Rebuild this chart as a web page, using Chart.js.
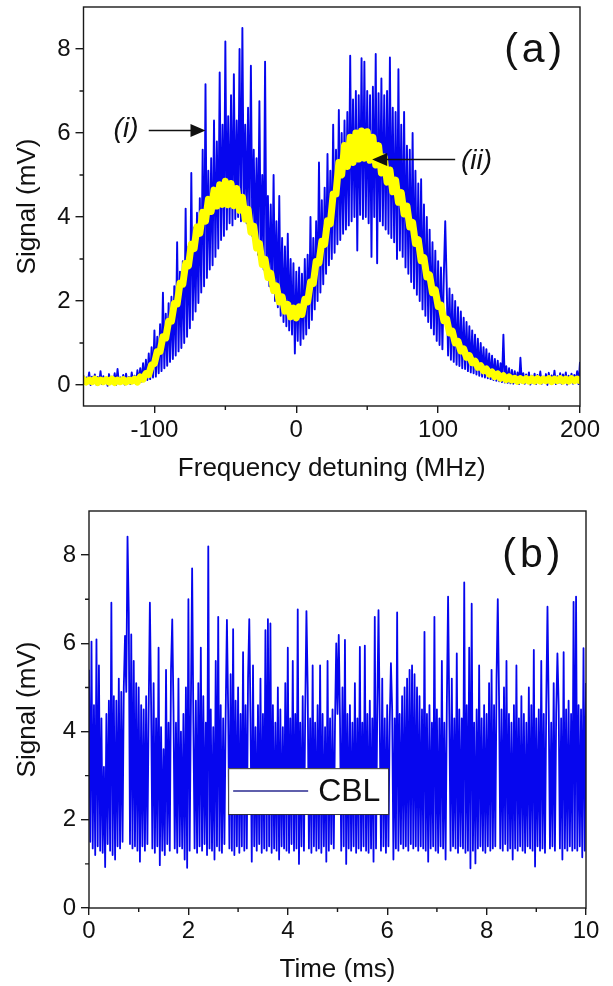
<!DOCTYPE html>
<html><head><meta charset="utf-8">
<script src="https://cdn.jsdelivr.net/npm/chart.js@4.4.1/dist/chart.umd.min.js"></script>
<style>
html,body{margin:0;padding:0;background:#fff;}
#wrap{position:relative;width:613px;height:986px;overflow:hidden;}
canvas{position:absolute;left:0;}
#c1{top:0;} #c2{top:493px;}
</style></head><body>
<div id="wrap">
<canvas id="c1" width="613" height="493"></canvas>
<canvas id="c2" width="613" height="493"></canvas>
</div>
<script>
// ---------------- DATA ----------------
// Panel (a): frequency grid (MHz)
const freqStart = -150;
const freqStep = 1;
// raw CBL trace (blue), one value per MHz from -150 to 200
const signalA_raw = [
0.22,0.02,0.18,0.06,0.30,0.00,0.20,0.04,0.25,0.01,
0.19,0.05,0.33,0.02,0.21,0.07,0.17,-0.02,0.26,0.03,
0.20,0.06,0.28,0.00,0.38,0.04,0.18,0.08,0.24,0.01,
0.27,0.05,0.19,0.02,0.30,0.06,0.22,0.03,0.35,0.07,
0.40,0.08,0.52,0.10,0.60,0.12,0.75,0.14,0.90,0.18,
1.30,0.20,1.15,0.28,1.45,0.33,2.20,0.40,1.70,0.46,
1.95,0.55,2.10,0.62,2.35,0.70,3.40,0.80,2.70,0.88,
2.95,1.00,4.20,1.15,3.30,1.35,5.05,1.55,3.75,1.75,
4.10,1.95,4.45,2.20,5.60,2.35,7.16,2.55,5.10,2.75,
5.40,2.85,6.30,3.05,5.80,3.25,7.44,3.45,6.20,3.55,
8.18,3.70,6.40,3.85,6.90,3.80,7.40,3.95,6.30,4.00,
8.00,3.90,8.50,4.05,6.20,3.85,6.60,3.70,7.60,3.55,
5.60,3.35,5.40,3.10,6.76,2.95,5.00,2.75,7.70,2.55,
4.50,2.35,4.30,2.20,5.00,2.00,3.90,1.85,4.50,1.65,
3.50,1.50,3.30,1.40,3.60,1.30,3.00,1.20,2.90,0.75,
2.70,1.05,2.80,0.95,2.65,1.10,3.00,1.20,3.10,1.35,
4.00,1.55,3.50,1.80,3.90,2.00,5.30,2.20,4.40,2.40,
4.70,2.65,5.50,2.85,5.10,3.00,6.20,3.15,5.60,3.35,
6.55,3.45,6.00,3.60,6.30,3.70,6.50,3.80,7.84,3.90,
6.80,4.00,7.00,3.20,6.90,4.05,7.78,3.95,7.70,4.00,
7.00,3.85,6.90,3.05,7.10,4.00,7.88,2.90,6.95,3.90,
7.30,3.80,6.90,3.70,7.00,3.60,7.80,3.50,6.60,3.40,
6.50,3.00,7.52,3.20,6.20,3.05,6.50,2.80,5.70,2.65,
5.60,2.45,6.00,2.30,5.10,2.15,4.80,2.00,4.90,1.80,
4.30,1.65,4.00,1.50,3.70,1.35,3.40,1.20,3.20,1.05,
2.95,0.95,2.80,0.85,2.60,3.90,2.45,0.70,2.30,0.60,
2.15,0.55,2.00,0.48,1.85,0.45,1.75,0.40,1.60,0.38,
1.50,0.33,1.40,0.30,1.30,0.28,1.20,0.25,1.10,0.22,
1.00,0.20,0.90,0.18,0.85,0.16,0.75,0.14,0.70,0.12,
0.62,0.10,0.58,0.09,0.52,0.07,1.20,0.06,0.45,0.05,
0.40,0.04,0.36,0.03,0.33,0.05,0.30,0.02,0.65,0.06,
0.28,0.03,0.25,0.07,0.30,0.01,0.22,0.05,0.27,0.02,
0.24,0.06,0.32,0.03,0.20,0.08,0.26,0.00,0.29,0.04,
0.23,0.07,0.34,0.02,0.21,0.05,0.28,0.03,0.25,0.06,
0.30,0.01,0.22,0.06,0.27,0.03,0.24,0.08,0.33,0.02,
0.55
];
// averaged trace (yellow), one value per 2 MHz from -150 to 200
const avgStart = -150;
const avgStep = 2;
const signalA_avg = [
0.13,0.07,0.12,0.08,0.14,0.06,0.12,0.08,0.13,0.07,
0.14,0.06,0.12,0.08,0.13,0.07,0.12,0.09,0.14,0.07,
0.19,0.14,0.27,0.25,0.48,0.51,0.80,0.80,1.15,1.12,
1.52,1.52,1.94,1.93,2.42,2.40,2.89,2.84,3.35,3.25,
3.76,3.61,4.11,3.90,4.42,4.13,4.64,4.26,4.77,4.30,
4.85,4.29,4.80,4.27,4.68,4.16,4.47,3.95,4.18,3.64,
3.78,3.26,3.37,2.87,2.99,2.56,2.66,2.25,2.36,1.98,
2.10,1.76,1.92,1.62,1.83,1.60,1.86,1.68,2.04,1.98,
2.45,2.42,2.94,2.91,3.42,3.35,3.91,3.84,4.55,4.55,
5.30,5.00,5.70,5.20,5.90,5.30,6.00,5.38,6.05,5.40,
6.03,5.35,5.90,5.24,5.70,5.05,5.43,4.83,5.12,4.60,
4.88,4.35,4.58,4.07,4.26,3.76,3.87,3.37,3.46,2.96,
3.03,2.57,2.62,2.20,2.26,1.87,1.90,1.53,1.57,1.24,
1.28,1.00,1.04,0.81,0.86,0.66,0.70,0.53,0.57,0.42,
0.46,0.34,0.38,0.26,0.31,0.20,0.26,0.16,0.22,0.13,
0.19,0.12,0.16,0.09,0.15,0.10,0.15,0.09,0.15,0.09,
0.15,0.09,0.14,0.10,0.15,0.08,0.14,0.10,0.15,0.09,
0.14,0.09,0.15,0.10,0.14,0.10
];
// Panel (b): time grid (ms)
const timeStart = 0;
const timeStep = 0.025;
const signalB_CBL = [
5.40,1.50,6.04,1.35,4.60,1.20,6.09,1.40,5.50,1.30,
4.30,1.25,3.20,0.93,4.40,1.45,4.70,1.30,6.92,1.20,
4.80,1.10,4.70,1.40,5.20,1.35,4.90,1.50,5.00,6.17,
4.90,8.42,6.70,1.45,6.20,1.35,5.60,1.40,5.10,1.30,
5.00,1.05,4.60,1.40,4.50,1.30,4.80,1.45,4.40,6.92,
4.60,1.35,5.10,1.25,4.30,1.40,5.90,0.97,4.10,1.30,
3.60,1.20,5.40,1.45,4.20,1.30,5.40,6.54,4.50,1.35,
4.20,1.25,5.20,1.40,4.00,1.35,4.40,1.10,5.00,0.91,
7.00,1.30,4.60,7.70,4.20,1.35,4.70,1.25,5.10,1.40,
5.90,1.30,4.80,1.45,4.20,1.20,8.20,1.35,4.50,1.30,
4.10,1.10,5.60,1.40,6.60,1.30,4.60,1.25,4.30,1.45,
4.40,6.53,4.50,1.35,5.30,1.30,6.32,1.20,4.70,1.40,
5.00,1.25,4.40,1.40,5.80,1.30,4.60,1.35,5.20,6.55,
4.30,1.05,5.50,1.40,4.10,1.30,4.60,1.45,5.20,1.25,
4.40,1.35,6.30,1.30,6.55,1.40,6.45,1.25,4.60,1.35,
4.20,1.30,5.00,1.10,4.50,1.40,4.10,1.35,5.10,1.30,
5.90,1.25,4.30,1.45,5.60,1.30,4.40,1.35,6.77,1.00,
4.20,1.40,4.80,1.30,4.40,6.73,5.00,1.35,4.30,1.25,
5.50,1.40,4.20,1.30,4.60,1.35,5.50,1.25,4.40,1.40,
4.10,1.05,5.60,1.30,4.30,1.45,4.50,1.35,4.20,6.00,
4.40,6.19,4.30,1.30,5.00,1.40,6.08,1.00,4.40,1.35,
4.60,1.30,4.20,1.40,5.10,1.25,4.30,1.35,5.92,1.30,
4.20,1.40,5.95,1.30,4.40,1.25,4.70,1.35,4.30,1.05,
6.60,1.35,4.50,6.75,4.20,1.30,5.20,1.40,4.30,1.25,
4.60,1.40,4.20,5.55,4.50,1.10,4.30,1.35,6.70,1.30,
4.40,1.45,4.80,1.35,5.00,1.40,5.20,1.30,5.40,1.45,
5.50,1.35,5.30,1.40,5.00,1.30,4.80,1.40,4.50,1.35,
6.26,1.30,4.40,1.05,4.60,1.35,4.20,1.40,6.60,1.30,
4.50,1.25,4.30,1.40,5.60,1.35,4.20,1.10,4.60,7.06,
4.40,1.30,5.20,1.40,4.30,1.35,5.77,1.25,4.50,1.40,
4.30,1.35,7.38,1.25,4.60,1.30,5.90,0.90,6.90,1.30,
4.20,1.01,4.50,1.35,5.50,1.40,4.30,1.30,4.60,1.25,
4.40,1.40,5.10,1.30,5.40,1.35,4.60,1.40,5.20,7.00,
4.80,1.35,4.50,1.30,5.00,1.45,5.60,1.30,4.40,1.35,
4.20,1.10,4.60,1.35,5.50,1.30,4.30,1.40,4.80,1.30,
4.40,1.25,4.20,1.40,5.00,1.35,4.60,1.30,5.85,0.94,
4.30,1.40,4.50,1.30,5.60,1.35,4.40,1.25,4.60,6.83,
4.50,1.35,4.20,1.40,5.10,1.30,4.40,5.77,4.60,1.35,
4.30,1.10,5.80,1.35,4.50,1.30,4.70,1.40,4.40,1.30,
6.94,1.35,7.06,1.30,4.60,1.40,4.50,1.15,5.89,1.30,
5.10
];
// tick values
const xTicksA = [-100, 0, 100, 200];
const xMinorA = [-50, 50, 150];
const yTicksA = [0, 2, 4, 6, 8];
const yMinorA = [1, 3, 5, 7];
const xTicksB = [0, 2, 4, 6, 8, 10];
const xMinorB = [1, 3, 5, 7, 9];
const yTicksB = [0, 2, 4, 6, 8];
const yMinorB = [1, 3, 5, 7];
const legendLabelB = 'CBL';

// ---------------- STYLE / LAYOUT ----------------
const FONT = '"Liberation Sans", Arial, Helvetica, sans-serif';
const BLUE = '#0606ee';
const YELLOW = '#ffff00';
const AXIS = '#1a1a1a';

function toPts(vals, start, step) { return vals.map((v, i) => ({x: start + i * step, y: v})); }

function zeroPad(s) { s.paddingLeft = 0; s.paddingRight = 0; s.paddingTop = 0; s.paddingBottom = 0; }

function scalesFor(o) {
  return {
    x: {
      type: 'linear', min: o.xmin, max: o.xmax,
      afterBuildTicks: s => { s.ticks = o.xt.map(v => ({value: v})); },
      afterFit: s => { s.height = o.xh; zeroPad(s); },
      grid: {display: true, drawOnChartArea: false, drawTicks: true, tickLength: 7, color: AXIS, lineWidth: 1.4},
      border: {display: false},
      ticks: {font: {family: FONT, size: 24}, color: '#111', padding: o.xtpad, maxRotation: 0, autoSkip: false},
      title: {display: true, text: o.xtitle, font: {family: FONT, size: 26}, color: '#111', padding: {top: 0, bottom: o.xtitlePad}}
    },
    y: {
      type: 'linear', min: o.ymin, max: o.ymax,
      afterBuildTicks: s => { s.ticks = o.yt.map(v => ({value: v})); },
      afterFit: s => { s.width = o.yw; zeroPad(s); },
      grid: {display: true, drawOnChartArea: false, drawTicks: true, tickLength: 8, color: AXIS, lineWidth: 1.4},
      border: {display: false},
      ticks: {font: {family: FONT, size: 24}, color: '#111', padding: 5, autoSkip: false},
      title: {display: true, text: 'Signal (mV)', font: {family: FONT, size: 26}, color: '#111', padding: {top: o.ytitlePad, bottom: 0}}
    }
  };
}

// frame + minor ticks + annotations
const decorPlugin = {
  id: 'decor',
  afterDraw(chart, args, opts) {
    const {ctx, chartArea: ca, scales: {x, y}} = chart;
    ctx.save();
    ctx.strokeStyle = AXIS; ctx.lineWidth = 1.4;
    ctx.strokeRect(ca.left, ca.top, ca.right - ca.left, ca.bottom - ca.top);
    ctx.beginPath();
    (opts.xMinor || []).forEach(v => { const p = x.getPixelForValue(v); ctx.moveTo(p, ca.bottom); ctx.lineTo(p, ca.bottom + 4); });
    (opts.yMinor || []).forEach(v => { const p = y.getPixelForValue(v); ctx.moveTo(ca.left, p); ctx.lineTo(ca.left - 4, p); });
    ctx.stroke();
    // panel label
    if (opts.panel) {
      ctx.save();
      ctx.fillStyle = '#111';
      ctx.font = '41px ' + FONT;
      if ('letterSpacing' in ctx) ctx.letterSpacing = '4px';
      ctx.textAlign = 'center'; ctx.textBaseline = 'middle';
      ctx.fillText(opts.panel.text, x.getPixelForValue(opts.panel.x) + 2, y.getPixelForValue(opts.panel.y));
      ctx.restore();
    }
    // arrows with italic labels
    (opts.arrows || []).forEach(a => {
      ctx.fillStyle = '#111'; ctx.strokeStyle = '#111';
      ctx.font = 'italic 28px ' + FONT;
      ctx.textAlign = 'center'; ctx.textBaseline = 'middle';
      ctx.fillText(a.text, x.getPixelForValue(a.tx), y.getPixelForValue(a.ty));
      const x0 = x.getPixelForValue(a.from[0]), y0 = y.getPixelForValue(a.from[1]);
      const x1 = x.getPixelForValue(a.to[0]), y1 = y.getPixelForValue(a.to[1]);
      const dir = Math.sign(x1 - x0);
      ctx.lineWidth = 1.5;
      ctx.beginPath(); ctx.moveTo(x0, y0); ctx.lineTo(x1 - dir * 14, y1); ctx.stroke();
      ctx.beginPath(); ctx.moveTo(x1, y1); ctx.lineTo(x1 - dir * 15, y1 - 6.5); ctx.lineTo(x1 - dir * 15, y1 + 6.5); ctx.closePath(); ctx.fill();
    });
    // legend box
    if (opts.legend) {
      const L = opts.legend;
      const lx = x.getPixelForValue(L.x0), rx = x.getPixelForValue(L.x1);
      const ty = y.getPixelForValue(L.y0), by = y.getPixelForValue(L.y1);
      ctx.fillStyle = '#fff';
      ctx.fillRect(lx, ty, rx - lx, by - ty);
      ctx.strokeStyle = '#333'; ctx.lineWidth = 1;
      ctx.strokeRect(lx + 0.5, ty + 0.5, rx - lx, by - ty);
      const ds = chart.data.datasets[0];
      ctx.strokeStyle = '#2a2a90'; ctx.lineWidth = 1.5;
      const my = (ty + by) / 2;
      ctx.beginPath(); ctx.moveTo(lx + 5, my); ctx.lineTo(lx + 80, my); ctx.stroke();
      ctx.fillStyle = '#111';
      ctx.font = '32px ' + FONT;
      ctx.textAlign = 'left'; ctx.textBaseline = 'middle';
      ctx.fillText(ds.label, lx + 90, my + 1);
    }
    ctx.restore();
  }
};

const common = {
  responsive: false, animation: false, events: [],
  elements: {point: {radius: 0}, line: {tension: 0}},
  plugins: {legend: {display: false}, tooltip: {enabled: false}}
};

new Chart(document.getElementById('c1'), {
  type: 'line',
  data: {datasets: [
    {label: 'average', data: toPts(signalA_avg, avgStart, avgStep), borderColor: YELLOW, borderWidth: 7, borderJoinStyle: 'round', borderCapStyle: 'round', fill: false},
    {label: 'CBL', data: toPts(signalA_raw, freqStart, freqStep), borderColor: BLUE, borderWidth: 1.9, borderJoinStyle: 'round', fill: false}
  ]},
  options: Object.assign({}, common, {
    layout: {padding: {left: 0, right: 33, top: 7, bottom: 0}},
    scales: scalesFor({xmin: -150, xmax: 200, xt: xTicksA, ymin: -0.5, ymax: 9, yt: yTicksA,
      xh: 87, yw: 83.5, xtpad: 3, xtitlePad: 9, ytitlePad: 12, xtitle: 'Frequency detuning (MHz)'}),
    plugins: Object.assign({}, common.plugins, {decor: {
      xMinor: xMinorA, yMinor: yMinorA,
      panel: {text: '(a)', x: 167, y: 7.95},
      arrows: [
        {text: '(i)', tx: -120, ty: 6.1, from: [-104, 6.06], to: [-64, 6.06]},
        {text: '(ii)', tx: 127, ty: 5.34, from: [112, 5.37], to: [53.5, 5.37]}
      ]
    }})
  }),
  plugins: [decorPlugin]
});

new Chart(document.getElementById('c2'), {
  type: 'line',
  data: {datasets: [
    {label: legendLabelB, data: toPts(signalB_CBL, timeStart, timeStep), borderColor: BLUE, borderWidth: 1.8, borderJoinStyle: 'round', fill: false}
  ]},
  options: Object.assign({}, common, {
    layout: {padding: {left: 0, right: 27, top: 18, bottom: 0}},
    scales: scalesFor({xmin: 0, xmax: 10, xt: xTicksB, ymin: 0, ymax: 9, yt: yTicksB,
      xh: 78, yw: 89, xtpad: 2, xtitlePad: 1, ytitlePad: 12, xtitle: 'Time (ms)'}),
    plugins: Object.assign({}, common.plugins, {decor: {
      xMinor: xMinorB, yMinor: yMinorB,
      panel: {text: '(b)', x: 8.9, y: 7.98},
      legend: {x0: 2.8, x1: 6.02, y0: 3.17, y1: 2.13}
    }})
  }),
  plugins: [decorPlugin]
});
</script>
</body></html>
